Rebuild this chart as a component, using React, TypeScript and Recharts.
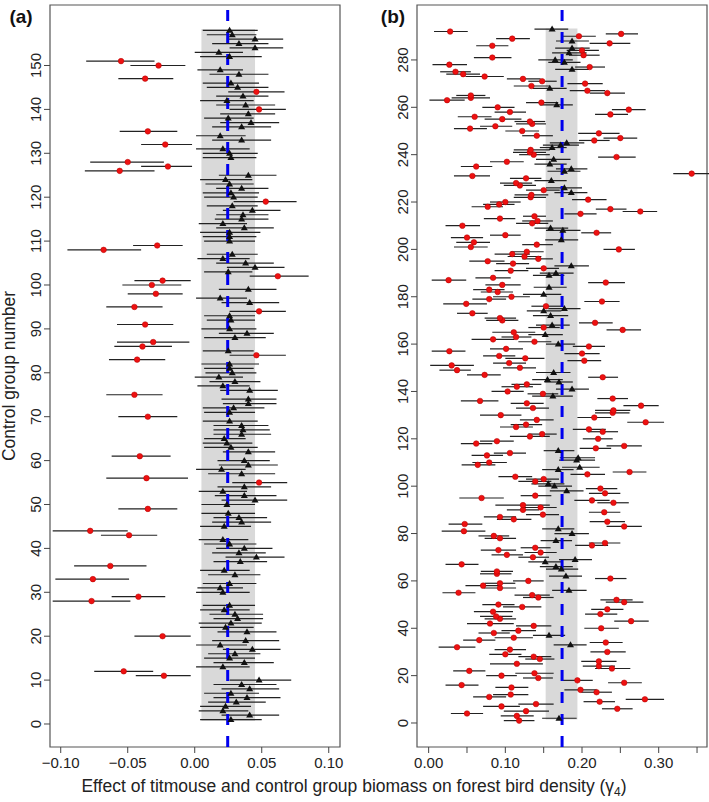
import React from 'react'
import { ScatterChart, Scatter, XAxis, YAxis, ErrorBar, ReferenceLine, ReferenceArea } from 'recharts'

const FONT = '"Liberation Sans", Arial, Helvetica, sans-serif'
const H = 802

// panel (a): control groups 1..158, estimate and interval
const aEst = [
  0.027, 0.041, 0.021, 0.023, 0.031, 0.039, 0.027, 0.041, 0.035, 0.048,
  -0.023, -0.053, 0.021, 0.037, 0.026, 0.030, 0.043, 0.019, 0.038, -0.024,
  0.039, 0.023, 0.027, 0.032, 0.030, 0.022, 0.026, -0.077, -0.042, 0.021,
  0.019, 0.026, -0.076, 0.030, 0.022, -0.063, 0.034, 0.046, 0.033, 0.037,
  0.026, 0.021, -0.049, -0.078, 0.022, 0.035, 0.033, 0.025, -0.035, 0.024,
  0.045, 0.037, 0.021, 0.037, 0.048, -0.036, 0.035, 0.020, 0.040, 0.037,
  -0.041, 0.040, 0.027, 0.024, 0.022, 0.035, 0.036, 0.035, 0.026, -0.035,
  0.026, 0.029, 0.040, 0.040, -0.045, 0.041, 0.021, 0.030, 0.018, 0.028,
  0.026, 0.026, -0.043, 0.046, 0.025, -0.039, -0.031, 0.030, 0.039, 0.026,
  -0.037, 0.027, 0.026, 0.048, -0.045, 0.041, 0.019, -0.029, 0.040, -0.032,
  -0.024, 0.062, 0.025, 0.045, 0.038, 0.021, 0.028, -0.068, -0.028, 0.026,
  0.026, 0.026, 0.037, 0.021, 0.035, 0.036, 0.043, 0.028, 0.053, 0.029,
  0.027, 0.035, 0.026, 0.023, 0.040, -0.056, -0.020, -0.050, 0.027, 0.026,
  0.021, -0.022, 0.035, 0.019, -0.035, 0.035, 0.042, 0.025, 0.040, 0.048,
  0.038, 0.024, 0.036, 0.046, 0.032, 0.027, -0.037, 0.033, 0.019, -0.027,
  -0.055, 0.026, 0.018, 0.045, 0.033, 0.045, 0.028, 0.026,
]
const aLo = [
  0.004, 0.020, 0.003, 0.004, 0.010, 0.014, 0.007, 0.020, 0.014, 0.026,
  -0.044, -0.075, 0.001, 0.014, 0.007, 0.010, 0.021, 0.001, 0.013, -0.045,
  0.017, 0.004, 0.003, 0.014, 0.011, 0.004, 0.006, -0.106, -0.062, 0.001,
  0.002, 0.006, -0.104, 0.010, 0.004, -0.090, 0.014, 0.023, 0.013, 0.016,
  0.007, 0.003, -0.070, -0.106, 0.004, 0.013, 0.014, 0.005, -0.057, 0.005,
  0.020, 0.015, 0.003, 0.017, 0.028, -0.066, 0.010, 0.001, 0.018, 0.017,
  -0.062, 0.021, 0.007, 0.006, 0.007, 0.014, 0.014, 0.014, 0.006, -0.057,
  0.007, 0.006, 0.021, 0.020, -0.066, 0.019, 0.002, 0.011, 0.000, 0.008,
  0.007, 0.005, -0.064, 0.026, 0.006, -0.060, -0.058, 0.007, 0.018, 0.005,
  -0.058, 0.009, 0.007, 0.026, -0.066, 0.020, 0.001, -0.050, 0.018, -0.054,
  -0.045, 0.041, 0.007, 0.024, 0.016, 0.002, 0.009, -0.095, -0.046, 0.007,
  0.006, 0.004, 0.016, 0.003, 0.015, 0.016, 0.021, 0.009, 0.029, 0.007,
  0.006, 0.016, 0.008, 0.004, 0.018, -0.082, -0.040, -0.078, 0.006, 0.006,
  0.001, -0.040, 0.013, 0.001, -0.056, 0.013, 0.019, 0.007, 0.019, 0.026,
  0.016, 0.004, 0.016, 0.025, 0.009, 0.006, -0.057, 0.011, 0.002, -0.048,
  -0.081, 0.004, 0.000, 0.026, 0.013, 0.024, 0.009, 0.006,
]
const aHi = [
  0.050, 0.063, 0.040, 0.042, 0.053, 0.064, 0.048, 0.063, 0.061, 0.072,
  -0.003, -0.031, 0.041, 0.059, 0.045, 0.049, 0.064, 0.039, 0.063, -0.003,
  0.061, 0.044, 0.050, 0.051, 0.051, 0.041, 0.045, -0.048, -0.022, 0.041,
  0.036, 0.046, -0.049, 0.049, 0.041, -0.036, 0.054, 0.067, 0.053, 0.058,
  0.046, 0.040, -0.028, -0.050, 0.042, 0.057, 0.054, 0.045, -0.013, 0.045,
  0.069, 0.061, 0.039, 0.057, 0.069, -0.005, 0.060, 0.038, 0.062, 0.056,
  -0.018, 0.060, 0.047, 0.043, 0.038, 0.057, 0.056, 0.055, 0.047, -0.013,
  0.045, 0.052, 0.061, 0.061, -0.024, 0.062, 0.041, 0.049, 0.036, 0.046,
  0.044, 0.048, -0.022, 0.068, 0.044, -0.017, -0.004, 0.053, 0.059, 0.046,
  -0.016, 0.045, 0.045, 0.068, -0.024, 0.063, 0.039, -0.009, 0.061, -0.010,
  -0.003, 0.085, 0.043, 0.067, 0.059, 0.041, 0.047, -0.040, -0.009, 0.045,
  0.046, 0.049, 0.059, 0.039, 0.055, 0.055, 0.064, 0.047, 0.076, 0.047,
  0.048, 0.055, 0.044, 0.043, 0.061, -0.030, -0.002, -0.023, 0.046, 0.047,
  0.041, -0.002, 0.057, 0.038, -0.013, 0.057, 0.063, 0.044, 0.060, 0.068,
  0.060, 0.044, 0.055, 0.067, 0.055, 0.048, -0.016, 0.055, 0.036, -0.007,
  -0.030, 0.050, 0.036, 0.066, 0.055, 0.066, 0.046, 0.047,
]
// groups drawn as red dots in (a); the rest are black triangles
const aRed = [11, 12, 20, 28, 29, 33, 36, 43, 44, 49, 55, 56, 61, 70, 75, 83, 84, 86, 87, 91, 94, 95, 98, 100, 101, 102, 108, 109, 119, 126, 127, 128, 132, 135, 140, 144, 147, 150, 151]

// panel (b): control groups 1..293
const bEst = [
  0.118, 0.170, 0.115, 0.050, 0.127, 0.246, 0.095, 0.140, 0.223, 0.282,
  0.079, 0.107, 0.219, 0.198, 0.108, 0.043, 0.255, 0.194, 0.143, 0.095,
  0.138, 0.053, 0.239, 0.222, 0.115, 0.222, 0.145, 0.137, 0.100, 0.233,
  0.106, 0.037, 0.185, 0.231, 0.066, 0.111, 0.157, 0.085, 0.117, 0.225,
  0.137, 0.080, 0.264, 0.093, 0.088, 0.224, 0.084, 0.233, 0.122, 0.091,
  0.255, 0.245, 0.143, 0.135, 0.039, 0.183, 0.093, 0.071, 0.093, 0.130,
  0.237, 0.179, 0.089, 0.089, 0.173, 0.166, 0.043, 0.152, 0.191, 0.136,
  0.102, 0.146, 0.091, 0.139, 0.213, 0.230, 0.166, 0.093, 0.085, 0.187,
  0.046, 0.169, 0.255, 0.047, 0.233, 0.111, 0.093, 0.149, 0.229, 0.123,
  0.146, 0.123, 0.241, 0.213, 0.069, 0.139, 0.230, 0.180, 0.224, 0.164,
  0.156, 0.139, 0.150, 0.113, 0.207, 0.262, 0.169, 0.197, 0.064, 0.079,
  0.193, 0.195, 0.076, 0.106, 0.169, 0.218, 0.255, 0.062, 0.089, 0.221,
  0.132, 0.148, 0.227, 0.209, 0.114, 0.127, 0.283, 0.141, 0.216, 0.094,
  0.240, 0.241, 0.136, 0.277, 0.128, 0.067, 0.240, 0.162, 0.149, 0.103,
  0.187, 0.115, 0.128, 0.170, 0.155, 0.227, 0.073, 0.163, 0.037, 0.119,
  0.030, 0.105, 0.203, 0.126, 0.092, 0.200, 0.027, 0.101, 0.209, 0.169,
  0.138, 0.084, 0.114, 0.152, 0.111, 0.253, 0.150, 0.161, 0.217, 0.096,
  0.093, 0.159, 0.057, 0.150, 0.177, 0.153, 0.049, 0.226, 0.079, 0.108,
  0.150, 0.090, 0.079, 0.157, 0.096, 0.231, 0.026, 0.084, 0.157, 0.166,
  0.107, 0.150, 0.186, 0.110, 0.077, 0.143, 0.125, 0.109, 0.128, 0.248,
  0.055, 0.141, 0.059, 0.173, 0.050, 0.100, 0.219, 0.175, 0.159, 0.044,
  0.135, 0.142, 0.093, 0.138, 0.198, 0.276, 0.237, 0.077, 0.092, 0.100,
  0.208, 0.133, 0.134, 0.186, 0.150, 0.177, 0.119, 0.114, 0.160, 0.127,
  0.057, 0.343, 0.177, 0.186, 0.062, 0.158, 0.102, 0.163, 0.245, 0.137,
  0.132, 0.133, 0.161, 0.172, 0.180, 0.216, 0.250, 0.141, 0.222, 0.122,
  0.054, 0.087, 0.135, 0.132, 0.096, 0.060, 0.237, 0.106, 0.261, 0.090,
  0.167, 0.147, 0.024, 0.055, 0.055, 0.233, 0.207, 0.158, 0.134, 0.204,
  0.148, 0.123, 0.073, 0.045, 0.035, 0.187, 0.210, 0.027, 0.177, 0.165,
  0.083, 0.202, 0.183, 0.200, 0.187, 0.083, 0.236, 0.187, 0.109, 0.196,
  0.251, 0.028, 0.161,
]
const bLo = [
  0.098, 0.148, 0.094, 0.029, 0.098, 0.226, 0.071, 0.117, 0.202, 0.257,
  0.058, 0.084, 0.199, 0.177, 0.087, 0.022, 0.234, 0.174, 0.123, 0.075,
  0.113, 0.032, 0.217, 0.201, 0.080, 0.199, 0.126, 0.117, 0.079, 0.211,
  0.086, 0.013, 0.163, 0.210, 0.045, 0.086, 0.136, 0.065, 0.095, 0.203,
  0.114, 0.050, 0.242, 0.073, 0.067, 0.204, 0.059, 0.212, 0.097, 0.070,
  0.231, 0.224, 0.123, 0.112, 0.018, 0.161, 0.072, 0.048, 0.073, 0.110,
  0.217, 0.157, 0.067, 0.068, 0.153, 0.145, 0.022, 0.130, 0.170, 0.117,
  0.082, 0.125, 0.068, 0.120, 0.191, 0.209, 0.146, 0.073, 0.065, 0.164,
  0.017, 0.148, 0.232, 0.026, 0.210, 0.089, 0.072, 0.127, 0.209, 0.102,
  0.125, 0.087, 0.220, 0.190, 0.040, 0.120, 0.209, 0.158, 0.205, 0.143,
  0.134, 0.117, 0.127, 0.091, 0.185, 0.240, 0.148, 0.174, 0.043, 0.057,
  0.170, 0.171, 0.056, 0.085, 0.150, 0.197, 0.232, 0.042, 0.067, 0.201,
  0.106, 0.130, 0.208, 0.188, 0.093, 0.107, 0.259, 0.119, 0.194, 0.067,
  0.217, 0.217, 0.114, 0.254, 0.107, 0.042, 0.220, 0.135, 0.129, 0.082,
  0.166, 0.095, 0.108, 0.151, 0.135, 0.208, 0.050, 0.140, 0.014, 0.097,
  0.002, 0.084, 0.181, 0.100, 0.071, 0.177, 0.004, 0.080, 0.188, 0.153,
  0.117, 0.056, 0.095, 0.130, 0.083, 0.232, 0.130, 0.140, 0.196, 0.075,
  0.073, 0.136, 0.037, 0.128, 0.156, 0.134, 0.019, 0.203, 0.057, 0.084,
  0.123, 0.068, 0.058, 0.137, 0.074, 0.208, 0.004, 0.061, 0.136, 0.145,
  0.086, 0.127, 0.164, 0.088, 0.053, 0.122, 0.103, 0.086, 0.107, 0.228,
  0.033, 0.122, 0.036, 0.152, 0.029, 0.080, 0.199, 0.153, 0.138, 0.022,
  0.114, 0.122, 0.072, 0.123, 0.177, 0.253, 0.218, 0.056, 0.071, 0.080,
  0.187, 0.111, 0.112, 0.164, 0.127, 0.153, 0.098, 0.093, 0.138, 0.106,
  0.033, 0.319, 0.155, 0.166, 0.042, 0.138, 0.080, 0.140, 0.221, 0.118,
  0.110, 0.111, 0.145, 0.149, 0.158, 0.196, 0.228, 0.122, 0.195, 0.100,
  0.033, 0.067, 0.114, 0.112, 0.073, 0.038, 0.217, 0.086, 0.239, 0.070,
  0.145, 0.127, 0.001, 0.030, 0.036, 0.210, 0.184, 0.136, 0.111, 0.181,
  0.130, 0.102, 0.048, 0.023, 0.015, 0.165, 0.191, 0.005, 0.156, 0.143,
  0.059, 0.183, 0.161, 0.180, 0.165, 0.062, 0.210, 0.166, 0.088, 0.173,
  0.231, 0.007, 0.138,
]
const bHi = [
  0.138, 0.193, 0.137, 0.071, 0.157, 0.266, 0.119, 0.163, 0.243, 0.307,
  0.101, 0.130, 0.239, 0.219, 0.130, 0.065, 0.278, 0.214, 0.162, 0.115,
  0.163, 0.074, 0.263, 0.243, 0.149, 0.245, 0.164, 0.160, 0.121, 0.257,
  0.127, 0.061, 0.206, 0.253, 0.087, 0.136, 0.178, 0.106, 0.140, 0.248,
  0.160, 0.111, 0.287, 0.114, 0.109, 0.246, 0.110, 0.254, 0.147, 0.112,
  0.280, 0.266, 0.163, 0.158, 0.061, 0.206, 0.114, 0.093, 0.113, 0.150,
  0.258, 0.200, 0.108, 0.110, 0.195, 0.188, 0.065, 0.173, 0.213, 0.157,
  0.123, 0.167, 0.114, 0.159, 0.234, 0.250, 0.187, 0.114, 0.105, 0.209,
  0.074, 0.190, 0.278, 0.070, 0.256, 0.134, 0.114, 0.170, 0.250, 0.144,
  0.167, 0.158, 0.261, 0.236, 0.098, 0.160, 0.250, 0.202, 0.246, 0.187,
  0.177, 0.160, 0.170, 0.135, 0.230, 0.284, 0.189, 0.223, 0.087, 0.102,
  0.217, 0.217, 0.097, 0.127, 0.190, 0.238, 0.278, 0.083, 0.111, 0.240,
  0.158, 0.167, 0.247, 0.231, 0.136, 0.148, 0.307, 0.163, 0.238, 0.121,
  0.262, 0.263, 0.157, 0.300, 0.150, 0.091, 0.260, 0.188, 0.169, 0.124,
  0.209, 0.136, 0.147, 0.188, 0.175, 0.247, 0.094, 0.185, 0.055, 0.140,
  0.059, 0.127, 0.225, 0.151, 0.113, 0.223, 0.048, 0.123, 0.230, 0.191,
  0.160, 0.112, 0.134, 0.175, 0.139, 0.277, 0.171, 0.184, 0.240, 0.117,
  0.114, 0.182, 0.077, 0.173, 0.198, 0.173, 0.076, 0.249, 0.101, 0.132,
  0.173, 0.110, 0.099, 0.180, 0.120, 0.256, 0.049, 0.107, 0.177, 0.189,
  0.130, 0.170, 0.209, 0.131, 0.099, 0.162, 0.147, 0.132, 0.150, 0.269,
  0.077, 0.162, 0.080, 0.195, 0.071, 0.120, 0.238, 0.198, 0.182, 0.067,
  0.156, 0.162, 0.113, 0.153, 0.219, 0.298, 0.258, 0.097, 0.112, 0.120,
  0.232, 0.153, 0.156, 0.207, 0.171, 0.200, 0.140, 0.135, 0.180, 0.147,
  0.080, 0.367, 0.198, 0.207, 0.083, 0.180, 0.124, 0.185, 0.270, 0.158,
  0.153, 0.158, 0.180, 0.196, 0.203, 0.236, 0.272, 0.162, 0.249, 0.144,
  0.076, 0.109, 0.153, 0.152, 0.121, 0.082, 0.260, 0.127, 0.283, 0.112,
  0.188, 0.169, 0.047, 0.080, 0.074, 0.256, 0.230, 0.180, 0.158, 0.227,
  0.167, 0.146, 0.098, 0.067, 0.055, 0.209, 0.230, 0.050, 0.198, 0.188,
  0.108, 0.223, 0.206, 0.222, 0.210, 0.104, 0.263, 0.209, 0.132, 0.218,
  0.273, 0.051, 0.182,
]
// groups drawn as black triangles in (b); the rest are red dots
const bTri = [2, 33, 37, 56, 62, 65, 66, 68, 69, 77, 80, 82, 98, 100, 101, 107, 108, 111, 112, 115, 138, 141, 144, 145, 148, 160, 164, 168, 172, 174, 175, 181, 184, 189, 190, 193, 204, 208, 209, 224, 226, 229, 233, 234, 236, 238, 243, 244, 245, 261, 268, 276, 279, 280, 283, 285, 288, 293]

// overall effect (blue dashed) and its interval (grey band)
const aMean = 0.0246
const aBand = [0.005, 0.045]
const bMean = 0.174
const bBand = [0.1526, 0.194]

const aXTicks = [-0.1, -0.05, 0, 0.05, 0.1]
const bXTicks = [0, 0.05, 0.1, 0.15, 0.2, 0.25, 0.3, 0.35]
const bXLabels = [0, 0.1, 0.2, 0.3]
const aYTicks = [0, 10, 20, 30, 40, 50, 60, 70, 80, 90, 100, 110, 120, 130, 140, 150]
const bYTicks = [0, 20, 40, 60, 80, 100, 120, 140, 160, 180, 200, 220, 240, 260, 280]

type Row = { g: number; v: number; err: [number, number] }

function rows(est: number[], lo: number[], hi: number[], pick: (g: number) => boolean) {
  const out: Row[] = []
  est.forEach((v, i) => {
    const g = i + 1
    if (pick(g)) out.push({ g, v, err: [v - lo[i], hi[i] - v] })
  })
  return out
}

const fmt = (v: number) => (v < 0 ? '\u2212' : '') + Math.abs(v).toFixed(2)

function XTick(props: any) {
  const { x, y, payload, labels } = props
  const v = payload.value
  if (labels && !labels.some((l: number) => Math.abs(l - v) < 1e-9)) return <g />
  return (
    <text x={x} y={y + 13} textAnchor="middle" fontSize={15} fontFamily={FONT} fill="#222">
      {fmt(v)}
    </text>
  )
}

function YTick(props: any) {
  const { x, y, payload } = props
  const tx = x - 1
  return (
    <text x={tx} y={y} transform={`rotate(-90 ${tx} ${y})`} textAnchor="middle" fontSize={15} fontFamily={FONT} fill="#222">
      {payload.value}
    </text>
  )
}

const triShape = (p: any) => (
  <path d={`M${p.cx},${p.cy - 3.6}L${p.cx + 3.5},${p.cy + 2.4}L${p.cx - 3.5},${p.cy + 2.4}Z`} fill="#111" />
)
const dotShape = (p: any) => <circle cx={p.cx} cy={p.cy} r={2.8} fill="#ee1111" stroke="#b00000" strokeWidth={0.5} />

function Panel(props: any) {
  const { left, width, right, red, tri, xDomain, xTicks, xLabels, yDomain, yTicks, band, mean } = props
  return (
    <div style={{ position: 'absolute', left, top: 0 }}>
      <ScatterChart width={width} height={H} margin={{ top: 5, right, bottom: 25, left: 20 }}>
        <XAxis
          type="number"
          dataKey="v"
          domain={xDomain}
          ticks={xTicks}
          interval={0}
          allowDataOverflow
          tick={<XTick labels={xLabels} />}
          tickSize={6}
          tickLine={{ stroke: '#444' }}
          axisLine={false}
          height={30}
        />
        <YAxis
          type="number"
          dataKey="g"
          domain={yDomain}
          ticks={yTicks}
          interval={0}
          allowDataOverflow
          tick={<YTick />}
          tickSize={6}
          tickLine={{ stroke: '#444' }}
          axisLine={false}
          width={30}
        />
        <ReferenceArea x1={band[0]} x2={band[1]} y1={band[2]} y2={band[3]} fill="#d9d9d9" fillOpacity={1} stroke="none" />
        <Scatter data={tri} shape={triShape} isAnimationActive={false}>
          <ErrorBar dataKey="err" direction="x" width={0} stroke="#222" strokeWidth={1.2} isAnimationActive={false} />
        </Scatter>
        <Scatter data={red} shape={dotShape} isAnimationActive={false}>
          <ErrorBar dataKey="err" direction="x" width={0} stroke="#222" strokeWidth={1.2} isAnimationActive={false} />
        </Scatter>
        <ReferenceLine x={mean} stroke="#0000ee" strokeWidth={3} strokeDasharray="11 11" />
        <ReferenceArea x1={xDomain[0]} x2={xDomain[1]} y1={yDomain[0]} y2={yDomain[1]} fill="none" stroke="#555" strokeWidth={1.2} />
      </ScatterChart>
    </div>
  )
}

export default function App() {
  const aRedRows = rows(aEst, aLo, aHi, g => aRed.includes(g))
  const aTriRows = rows(aEst, aLo, aHi, g => !aRed.includes(g))
  const bRedRows = rows(bEst, bLo, bHi, g => !bTri.includes(g))
  const bTriRows = rows(bEst, bLo, bHi, g => bTri.includes(g))
  return (
    <div style={{ position: 'absolute', left: 0, top: 0, width: 709, height: H, background: '#fff', fontFamily: FONT }}>
      <Panel
        left={0}
        width={345}
        right={5}
        red={aRedRows}
        tri={aTriRows}
        xDomain={[-0.108, 0.1084]}
        xTicks={aXTicks}
        yDomain={[-5.24, 163.78]}
        yTicks={aYTicks}
        band={[aBand[0], aBand[1], 0.7, 158.3]}
        mean={aMean}
      />
      <Panel
        left={367}
        width={342}
        right={2}
        red={bRedRows}
        tri={bTriRows}
        xDomain={[-0.0152, 0.363]}
        xTicks={bXTicks}
        xLabels={bXLabels}
        yDomain={[-10.14, 303.2]}
        yTicks={bYTicks}
        band={[bBand[0], bBand[1], 1.5, 293.3]}
        mean={bMean}
      />
      <svg width={709} height={H} style={{ position: 'absolute', left: 0, top: 0, pointerEvents: 'none' }}>
        <text x={21} y={23} textAnchor="middle" fontSize={19} fontWeight="bold" fontFamily={FONT} fill="#111">(a)</text>
        <text x={393} y={23} textAnchor="middle" fontSize={19} fontWeight="bold" fontFamily={FONT} fill="#111">(b)</text>
        <text x={15} y={376} transform="rotate(-90 15 376)" textAnchor="middle" fontSize={17.5} fontFamily={FONT} fill="#222">
          Control group number
        </text>
        <text x={354} y={792} textAnchor="middle" fontSize={17.5} fontFamily={FONT} fill="#222">
          Effect of titmouse and control group biomass on forest bird density (
          <tspan>γ</tspan>
          <tspan fontSize={12} dy={4}>4</tspan>
          <tspan dy={-4}>)</tspan>
        </text>
      </svg>
    </div>
  )
}
